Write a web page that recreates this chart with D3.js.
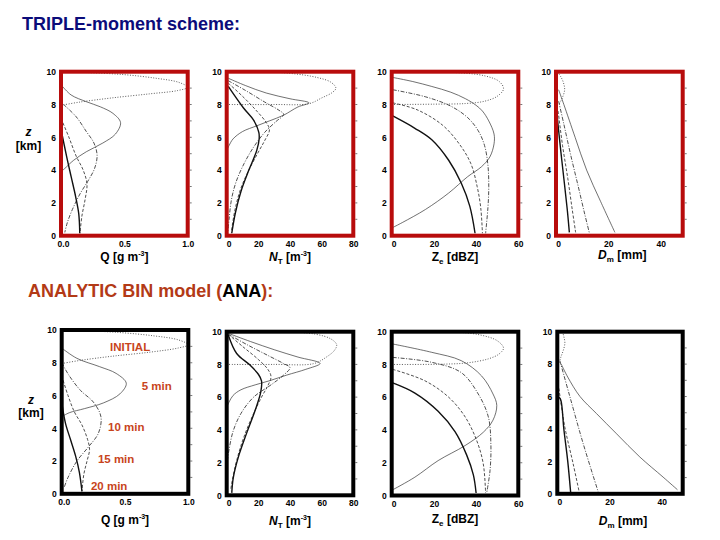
<!DOCTYPE html>
<html><head><meta charset="utf-8">
<script src="https://cdn.jsdelivr.net/npm/d3@7"></script>
<style>body{margin:0;background:#fff}svg{display:block}</style>
</head><body><svg id="c" width="720" height="540"></svg>
<script>
// ---------- data ----------
const seriesNames = ["INITIAL", "5 min", "10 min", "15 min", "20 min"];
const zTicks = [0, 2, 4, 6, 8, 10];
const qTicks = [0, 0.5, 1.0];
const ntTicks = [0, 20, 40, 60, 80];
const zeTicks = [0, 20, 40, 60];
const dmTicks = [0, 20, 40];

// each series: [value, z(km)]
const triQ = [
  [[0,7.95],[0.15,8.15],[0.4,8.4],[0.7,8.65],[0.92,8.85],[1.0,9.05],[0.93,9.35],[0.75,9.6],[0.5,9.82],[0.2,9.95],[0,10]],
  [[0.01,9.12],[0.08,8.58],[0.2,8.17],[0.31,7.86],[0.41,7.46],[0.47,6.9],[0.43,6.2],[0.33,5.65],[0.2,5.12],[0.1,4.6],[0.03,4.1],[0,3.9]],
  [[0.02,8.0],[0.12,7.25],[0.2,6.35],[0.26,5.65],[0.285,4.9],[0.265,4.1],[0.21,3.3],[0.15,2.55],[0.09,1.6],[0.05,0.8],[0.03,0.2]],
  [[0,7.15],[0.06,6.05],[0.12,4.85],[0.175,4.0],[0.205,3.15],[0.19,2.2],[0.165,1.2],[0.15,0.15]],
  [[0,6.5],[0.045,4.8],[0.08,3.6],[0.115,2.4],[0.14,1.35],[0.148,0.15]]
];
const triNT = [
  [[0,8.0],[30,8.0],[52,8.05],[60,8.4],[67,8.75],[69,9.0],[66,9.35],[57,9.65],[40,9.9],[20,10],[0,10]],
  [[1,9.6],[12,9.15],[25,8.7],[40,8.35],[52,8.1],[45,7.85],[36,7.35],[27,7.0],[19,6.7],[10,6.35],[4,5.9],[1.5,5.5],[0.5,5.3]],
  [[1,9.45],[12,8.85],[24,8.15],[33,7.65],[36,7.4],[31,6.95],[24,6.3],[17,5.4],[11,4.4],[6,3.3],[3,2.2],[1.5,1.0],[0.8,0.3]],
  [[1,9.3],[10,8.5],[19,7.6],[25,6.9],[27,6.45],[24,5.8],[20,5.1],[14,4.0],[9,2.9],[5.5,1.7],[3.5,0.6],[3,0.2]],
  [[1,9.1],[10.5,7.8],[17,7.05],[20.3,6.3],[20.5,5.9],[19,5.2],[14,4.0],[9,2.7],[5.5,1.4],[3.2,0.15]]
];
const triZe = [
  [[0,8.0],[20,8.02],[35,8.06],[44,8.2],[50,8.5],[53,8.95],[51,9.4],[44,9.75],[30,9.95],[10,10]],
  [[0.5,9.65],[10,9.4],[19,9.1],[28,8.75],[35,8.35],[40,7.95],[43,7.6],[46,7.0],[48.5,6.2],[48.5,5.6],[46.5,4.8],[42.5,4.2],[36,3.6],[27,2.6],[16,1.6],[5,0.8],[0.5,0.5]],
  [[0.5,8.9],[16,8.47],[28,7.9],[36,7.2],[41,6.4],[44,5.5],[45.6,4.3],[46,3.0],[45.6,1.7],[44.5,0.15]],
  [[0.5,8.1],[12,7.68],[24,6.75],[32,5.6],[37.5,4.4],[40.5,3.0],[42.2,1.7],[43,0.15]],
  [[0.5,7.3],[11,6.55],[19,5.85],[27,4.6],[33,3.2],[37,1.8],[39.5,0.15]]
];
const triDm = [
  [[0.5,10],[1.8,9.7],[2.8,9.35],[3.3,8.9],[2.4,8.4],[1.3,8.05]],
  [[1,8.9],[3,8],[7.3,6],[11.7,4],[17,2.1],[22.5,0.2]],
  [[1,8.2],[3,6.8],[5.5,5],[8.5,3],[11,1.3],[12.7,0.2]],
  [[0.8,7.6],[2.5,5.5],[4.5,3.5],[6.2,1.6],[7.5,0.2]],
  [[0.5,7.2],[1.8,5.2],[3.2,3.2],[4.3,1.6],[5.1,0.2]]
];

const anaQ = [
  [[0,7.95],[0.15,8.15],[0.4,8.4],[0.7,8.65],[0.92,8.9],[1.0,9.1],[0.92,9.4],[0.72,9.65],[0.45,9.85],[0.15,9.97],[0,10]],
  [[0,8.9],[0.12,8.27],[0.3,7.76],[0.43,7.35],[0.51,6.75],[0.46,6.1],[0.33,5.55],[0.18,5.2],[0.06,4.95],[0,4.7]],
  [[0,8.0],[0.06,7.2],[0.15,6.3],[0.25,5.6],[0.31,4.7],[0.29,3.7],[0.21,2.85],[0.12,2.0],[0.05,1.0],[0.02,0.4]],
  [[0,7.2],[0.05,6.0],[0.1,5.0],[0.16,4.2],[0.205,3.3],[0.22,2.7],[0.2,2.0],[0.175,1.2],[0.16,0.15]],
  [[0,5.6],[0.03,4.3],[0.07,3.3],[0.11,2.3],[0.14,1.3],[0.16,0.15]]
];
const anaNT = [
  [[0,8.0],[30,8.0],[55,8.05],[63,8.45],[68,8.85],[69.5,9.2],[66,9.55],[56,9.85],[35,10],[0,10]],
  [[1,9.9],[15,9.4],[30,8.9],[45,8.45],[59,8.06],[50,7.7],[38,7.35],[27,7.0],[18,6.75],[9,6.45],[4,6.1],[1.5,5.7],[0.5,5.5]],
  [[1,9.85],[13,9.2],[26,8.55],[36,8.05],[40,7.8],[36,7.35],[28,6.75],[17,6.0],[9,5.0],[4,3.9],[1.5,2.8],[0.5,2.2]],
  [[1,9.85],[10,9.1],[20,8.3],[26,7.7],[28,7.25],[26,6.7],[22,6.0],[17,5.0],[11,3.6],[6.5,2.2],[3.5,0.9],[2.5,0.3]],
  [[1,9.8],[6.3,8.67],[14.7,7.96],[20,7.4],[22,7.0],[21.5,6.3],[18,5.2],[12.6,3.8],[7.4,2.35],[4.2,1.1],[3.2,0.15]]
];
const anaZe = [
  [[0,8.0],[25,8.02],[36,8.1],[46,8.35],[51,8.65],[53,9.0],[50,9.45],[42,9.8],[30,9.98],[10,10]],
  [[0.5,9.25],[19,8.74],[33,8.23],[42.6,7.3],[48,6.2],[49.8,5.5],[48,4.6],[43.4,3.86],[34.8,3.05],[22,2.13],[11,1.12],[0.5,0.35]],
  [[0.5,8.43],[19,8.13],[33,7.5],[41,6.2],[45.8,4.8],[47,3.15],[46.6,1.52],[45,0.15]],
  [[0.5,7.7],[15.8,7.0],[27,6.0],[34.8,4.8],[40.3,3.35],[43.4,1.93],[44.5,0.15]],
  [[0.5,6.87],[11,6.25],[22,5.14],[30,3.9],[35.5,2.48],[38.7,1.26],[40,0.15]]
];
const anaDm = [
  [[2,10],[2.5,9.7],[2.9,9.3],[2.3,8.85],[1.4,8.45],[0.8,8.1]],
  [[1.5,8.0],[4,7.2],[8.7,6.0],[15,4.95],[22.7,3.7],[31.6,2.27],[40.5,1.03],[46,0.25]],
  [[1,8.2],[4.8,6.0],[9.9,3.1],[15.7,0.1]],
  [[0.6,6.5],[2.9,4.1],[6,1.9],[8.4,0.1]],
  [[0.4,6.0],[1.3,5.8],[2.5,4.0],[4.0,2.0],[5.1,0.1]]
];

// annotation anchors in (Q, z) units of the ANA Q panel
const annoLabels = ["INITIAL", "5 min", "10 min", "15 min", "20 min"];
const annoQ = [0.54, 0.75, 0.51, 0.43, 0.375];
const annoZ = [8.96, 6.6, 4.06, 2.1, 0.45];

// ---------- drawing ----------
const F = 'Arial, "Liberation Sans", Helvetica, sans-serif';
const svg = d3.select("#c");
const styles = [
  {w: 0.8, dash: "1,1.6", c: "#333"},
  {w: 0.7, dash: null, c: "#333"},
  {w: 0.8, dash: "4,1.5,1,1.5", c: "#222"},
  {w: 0.8, dash: "3,1.8", c: "#222"},
  {w: 1.4, dash: null, c: "#111"}
];

function panel(cfg, i) {
  const x = d3.scaleLinear().domain(cfg.domain).range([cfg.x0, cfg.x1]);
  const y = d3.scaleLinear().domain([0, 10]).range([cfg.y1, cfg.y0]);
  const g = svg.append("g");
  const cid = "clip" + i;
  svg.append("clipPath").attr("id", cid).append("rect")
    .attr("x", cfg.x0).attr("y", cfg.y0).attr("width", cfg.x1 - cfg.x0).attr("height", cfg.y1 - cfg.y0);
  const line = d3.line().x(d => x(d[0])).y(d => y(d[1])).curve(d3.curveCatmullRom.alpha(0.5));
  g.append("g").attr("clip-path", `url(#${cid})`)
    .selectAll("path").data(cfg.data).join("path")
    .attr("d", line).attr("fill", "none").attr("stroke", (d, k) => styles[k].c)
    .attr("stroke-width", (d, k) => styles[k].w)
    .attr("stroke-dasharray", (d, k) => styles[k].dash);

  const ay = d3.axisLeft(y).tickValues(zTicks).tickSize(0).tickPadding(5).tickFormat(d3.format("d"));
  g.append("g").attr("transform", `translate(${cfg.x0},0)`).call(ay)
    .call(s => s.select(".domain").remove())
    .attr("font-size", 8.5).attr("font-weight", "bold").attr("font-family", F);
  const ax = d3.axisBottom(x).tickValues(cfg.ticks).tickSize(0).tickPadding(cfg.pad).tickFormat(cfg.fmt);
  g.append("g").attr("transform", `translate(0,${cfg.y1})`).call(ax)
    .call(s => s.select(".domain").remove())
    .attr("font-size", 8.5).attr("font-weight", "bold").attr("font-family", F)
    .call(s => s.selectAll(".tick").filter((d, k) => k === 0).select("text").attr("dx", 2));
  // minor ticks on the right side
  g.append("g").selectAll("line").data(d3.range(1, 10)).join("line")
    .attr("x1", cfg.x1 + 2).attr("x2", cfg.x1 + 4)
    .attr("y1", d => y(d)).attr("y2", d => y(d)).attr("stroke", "#555").attr("stroke-width", 0.8);

  g.append("rect").attr("x", cfg.x0).attr("y", cfg.y0)
    .attr("width", cfg.x1 - cfg.x0).attr("height", cfg.y1 - cfg.y0)
    .attr("fill", "none").attr("stroke", cfg.frame).attr("stroke-width", 4);

  // axis label
  const t = svg.append("text").attr("x", (cfg.x0 + cfg.x1) / 2 + (cfg.lx || 0)).attr("y", cfg.ly)
    .attr("text-anchor", "middle").attr("font-family", F).attr("font-size", 12).attr("font-weight", "bold").attr("fill", "#000");
  cfg.label(t);
  return {x, y};
}

const fmtQ = d3.format(".1f"), fmtI = d3.format("d");
const labQ = t => { t.append("tspan").text("Q [g m"); t.append("tspan").attr("font-size", 7).attr("dy", -5).text("-3"); t.append("tspan").attr("dy", 5).text("]"); };
const labN = t => { t.append("tspan").attr("font-style", "italic").text("N"); t.append("tspan").attr("font-size", 8).attr("dy", 3).text("T"); t.append("tspan").attr("dy", -3).text(" [m"); t.append("tspan").attr("font-size", 7).attr("dy", -5).text("-3"); t.append("tspan").attr("dy", 5).text("]"); };
const labZ = t => { t.append("tspan").text("Z"); t.append("tspan").attr("font-size", 8).attr("dy", 3).text("e"); t.append("tspan").attr("dy", -3).text(" [dBZ]"); };
const labD = t => { t.append("tspan").attr("font-style", "italic").text("D"); t.append("tspan").attr("font-size", 8).attr("dy", 3).text("m"); t.append("tspan").attr("dy", -3).text(" [mm]"); };

const RED = "#b80c0c", BLK = "#000";
const cfgs = [
  {data: triQ,  domain: [0, 1],  ticks: qTicks,  fmt: fmtQ, x0: 61,    x1: 187.7, y0: 71.7,  y1: 235.7, frame: RED, pad: 5, label: labQ, ly: 261},
  {data: triNT, domain: [0, 80], ticks: ntTicks, fmt: fmtI, x0: 226.7, x1: 353.3, y0: 71.7,  y1: 235.7, frame: RED, pad: 5, label: labN, ly: 261},
  {data: triZe, domain: [0, 60], ticks: zeTicks, fmt: fmtI, x0: 391.7, x1: 518.3, y0: 71.7,  y1: 235.7, frame: RED, pad: 5, label: labZ, ly: 261},
  {data: triDm, domain: [0, 48.4], ticks: dmTicks, fmt: fmtI, x0: 556, x1: 682.7, y0: 71.7, y1: 235.7, frame: RED, pad: 5, label: labD, ly: 259, lx: 3},
  {data: anaQ,  domain: [0, 1],  ticks: qTicks,  fmt: fmtQ, x0: 61.7,  x1: 188.3, y0: 330,   y1: 493.8, frame: BLK, pad: 5, label: labQ, ly: 524},
  {data: anaNT, domain: [0, 80], ticks: ntTicks, fmt: fmtI, x0: 226.7, x1: 353.3, y0: 331.7, y1: 495.3, frame: BLK, pad: 5, label: labN, ly: 525},
  {data: anaZe, domain: [0, 60], ticks: zeTicks, fmt: fmtI, x0: 391.7, x1: 518.3, y0: 331.7, y1: 495.5, frame: BLK, pad: 5, label: labZ, ly: 523},
  {data: anaDm, domain: [0, 48], ticks: dmTicks, fmt: fmtI, x0: 557.3, x1: 682.7, y0: 331.7, y1: 493.8, frame: BLK, pad: 5, label: labD, ly: 525, lx: 3}
];
const scales = cfgs.map(panel);

// z [km] labels
[[28.5, 136, 150], [31, 404, 417]].forEach(([cx, y1, y2]) => {
  svg.append("text").attr("x", cx).attr("y", y1).attr("text-anchor", "middle").attr("font-family", F)
    .attr("font-size", 12).attr("font-weight", "bold").attr("font-style", "italic").text("z");
  svg.append("text").attr("x", cx).attr("y", y2).attr("text-anchor", "middle").attr("font-family", F)
    .attr("font-size", 12).attr("font-weight", "bold").text("[km]");
});

// titles
svg.append("text").attr("x", 22).attr("y", 30).attr("font-family", F).attr("font-size", 18)
  .attr("font-weight", "bold").attr("fill", "#0b0b7a").text("TRIPLE-moment scheme:");
const t2 = svg.append("text").attr("x", 28).attr("y", 297).attr("font-family", F).attr("font-size", 18)
  .attr("font-weight", "bold").attr("fill", "#b33a16");
t2.append("tspan").text("ANALYTIC BIN model (");
t2.append("tspan").attr("fill", "#000").text("ANA");
t2.append("tspan").text("):");

// time annotations on ANA Q panel
const sQ = scales[4];
svg.append("g").selectAll("text").data(annoLabels).join("text")
  .attr("x", (d, i) => sQ.x(annoQ[i])).attr("y", (d, i) => sQ.y(annoZ[i]) + 4)
  .attr("text-anchor", "middle").attr("font-family", F).attr("font-size", 11.5).attr("font-weight", "bold")
  .attr("fill", "#c8441c").text(d => d);
</script></body></html>
